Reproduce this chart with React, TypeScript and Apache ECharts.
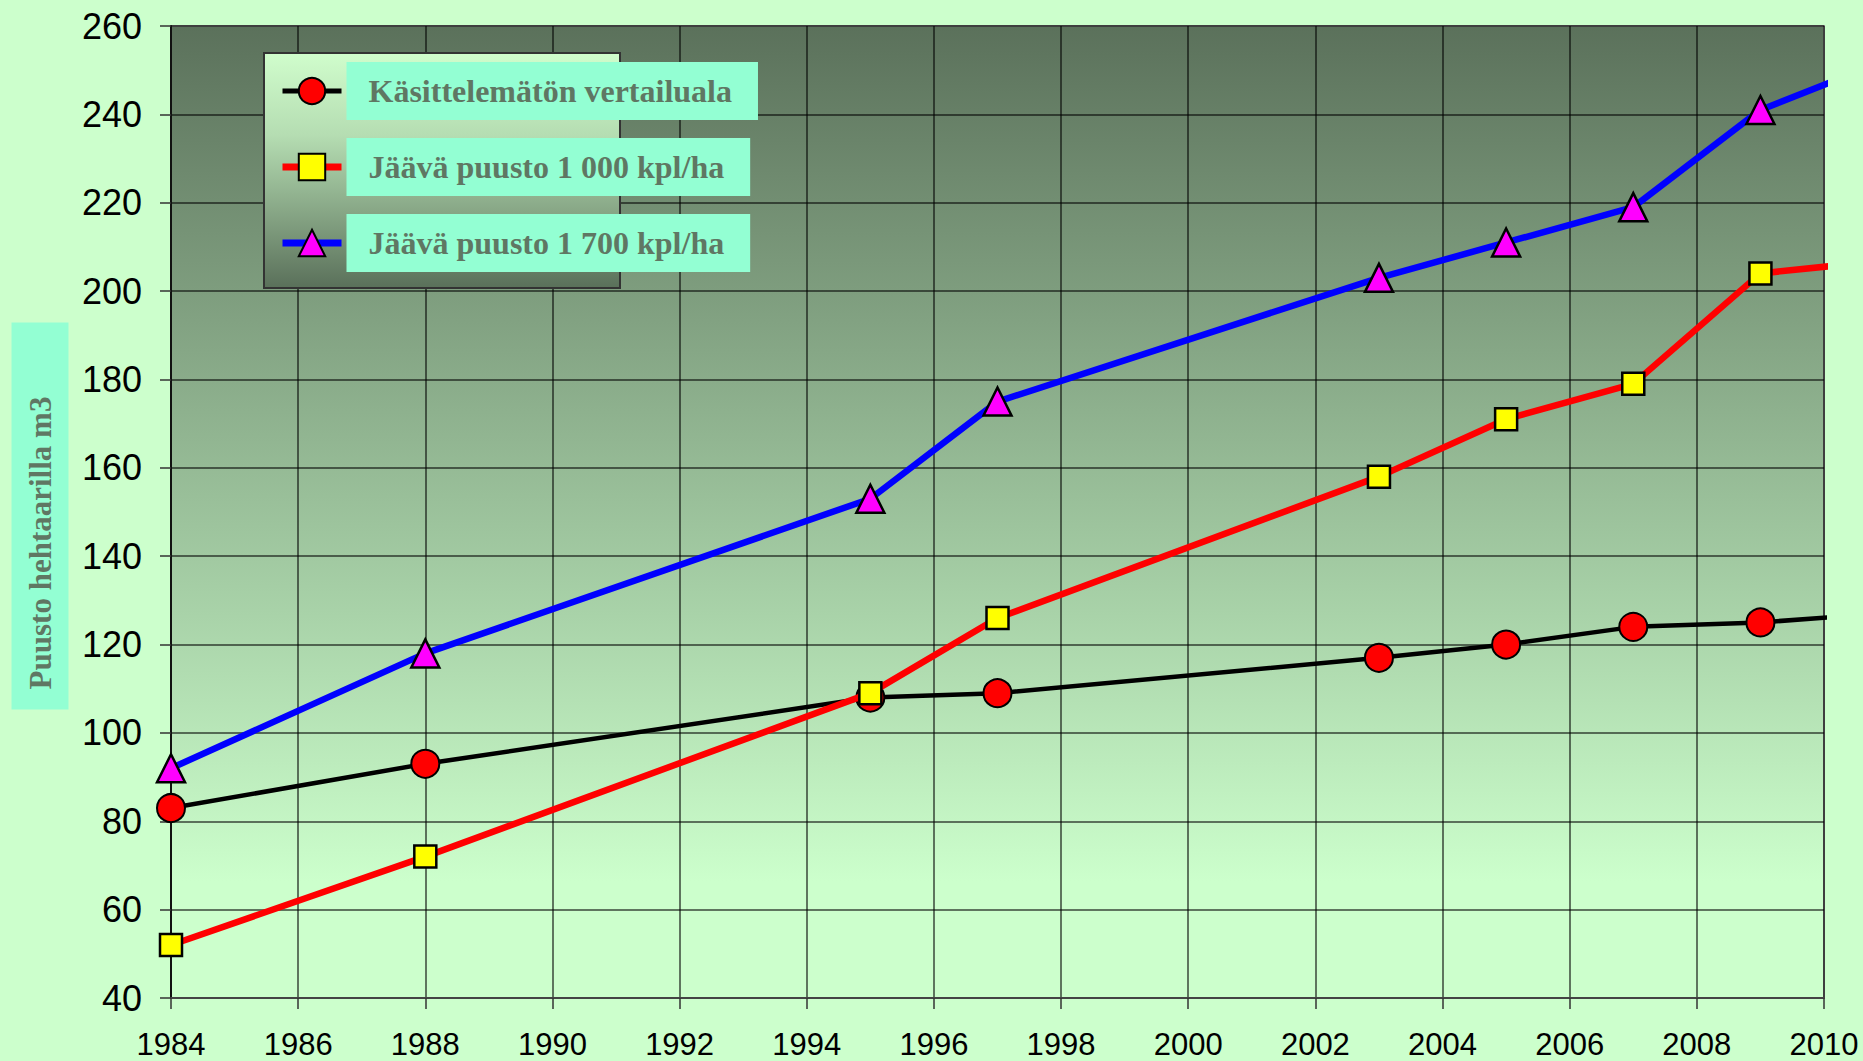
import React, { useEffect, useRef } from 'react';
import * as echarts from 'echarts';

// ---- data ----
const years = [1984, 1988, 1995, 1997, 2003, 2005, 2007, 2009];
const tailYear = 2010.2; // lines run a little past the 2010 edge
const untreated = [83, 93, 108, 109, 117, 120, 124, 125];
const untreatedTail = 126.3;
const stand1000 = [52, 72, 109, 126, 158, 171, 179, 204];
const stand1000Tail = 205.8;
const stand1700 = [92, 118, 153, 175, 203, 211, 219, 241];
const stand1700Tail = 247.8;
const seriesNames = [
  'Käsittelemätön vertailuala',
  'Jäävä puusto 1 000 kpl/ha',
  'Jäävä puusto 1 700 kpl/ha',
];
const yAxisTitle = 'Puusto hehtaarilla m3';
const xMin = 1984;
const xMax = 2010;
const xStep = 2;
const yMin = 40;
const yMax = 260;
const yStep = 20;

const PAGE_BG = '#CCFFCC';
const TEAL = '#93FFD3';
const TITLE_COLOR = '#5F7763';
const SANS = "'Liberation Sans', Arial, sans-serif";
const SERIF = "'Liberation Serif', 'Times New Roman', serif";

function build(vals: number[], tail: number) {
  const pts: any[] = years.map((y, i) => [y, vals[i]]);
  pts.push({ value: [tailYear, tail], symbol: 'none' });
  return pts;
}

export default function App() {
  const ref = useRef<HTMLDivElement>(null);
  useEffect(() => {
    if (!ref.current) return;
    const chart = echarts.init(ref.current, undefined, { renderer: 'svg' });
    const option: any = {
      animation: false,
      backgroundColor: PAGE_BG,
      grid: {
        left: 171,
        right: 39,
        top: 26,
        bottom: 63,
        show: true,
        borderColor: '#8a8a8a',
        borderWidth: 2,
        backgroundColor: new echarts.graphic.LinearGradient(0, 0, 0, 1, [
          { offset: 0, color: '#5B715B' },
          { offset: 0.88, color: '#CCFFCC' },
          { offset: 1, color: '#CCFFCC' },
        ]),
      },
      xAxis: {
        type: 'value',
        min: xMin,
        max: xMax,
        interval: xStep,
        axisLine: { show: true, lineStyle: { color: '#444', width: 2 } },
        axisTick: { show: true, length: 11, lineStyle: { color: '#333', width: 1.5 } },
        axisLabel: {
          fontFamily: SANS,
          fontSize: 31,
          color: '#000',
          margin: 31,
          formatter: (v: number) => String(v),
        },
        splitLine: { show: true, lineStyle: { color: 'rgba(0,0,0,0.72)', width: 1.5 } },
      },
      yAxis: {
        type: 'value',
        min: yMin,
        max: yMax,
        interval: yStep,
        axisLine: { show: true, lineStyle: { color: '#111', width: 2 } },
        axisTick: { show: true, length: 11, lineStyle: { color: '#333', width: 1.5 } },
        axisLabel: { fontFamily: SANS, fontSize: 36, color: '#000', margin: 29 },
        splitLine: { show: true, lineStyle: { color: 'rgba(0,0,0,0.72)', width: 1.5 } },
      },
      legend: {
        orient: 'vertical',
        left: 279,
        top: 62,
        padding: 0,
        itemWidth: 59,
        itemHeight: 33,
        itemGap: 18,
        selectedMode: false,
        z: 20,
        data: [
          { name: seriesNames[0], lineStyle: { width: 5 } },
          { name: seriesNames[1], lineStyle: { width: 7 } },
          { name: seriesNames[2], lineStyle: { width: 7 } },
        ],
        textStyle: {
          fontFamily: SERIF,
          fontWeight: 'bold',
          fontSize: 32,
          color: TITLE_COLOR,
          backgroundColor: TEAL,
          padding: [13, 26, 13, 22],
        },
      },
      graphic: [
        {
          type: 'rect',
          z: 10,
          shape: { x: 264, y: 53, width: 356, height: 235 },
          style: {
            fill: new echarts.graphic.LinearGradient(0, 0, 0, 1, [
              { offset: 0, color: '#D0FDCC' },
              { offset: 0.35, color: '#B5DDB2' },
              { offset: 1, color: '#5A705A' },
            ]),
            stroke: '#333',
            lineWidth: 2,
          },
        },
        {
          type: 'text',
          z: 10,
          x: 40,
          y: 516,
          rotation: Math.PI / 2,
          style: {
            text: yAxisTitle,
            font: `bold 31px ${SERIF}`,
            fill: TITLE_COLOR,
            align: 'center',
            verticalAlign: 'middle',
            backgroundColor: TEAL,
            padding: [13, 74, 13, 20],
          },
        },
      ],
      series: [
        {
          name: seriesNames[0],
          type: 'line',
          clip: false,
          data: build(untreated, untreatedTail),
          symbol: 'circle',
          symbolSize: 28,
          lineStyle: { color: '#000', width: 4.5 },
          itemStyle: { color: '#FF0000', borderColor: '#000', borderWidth: 2 },
          z: 3,
        },
        {
          name: seriesNames[1],
          type: 'line',
          clip: false,
          data: build(stand1000, stand1000Tail),
          symbol: 'rect',
          symbolSize: 22,
          lineStyle: { color: '#FF0000', width: 6.5 },
          itemStyle: { color: '#FFFF00', borderColor: '#000', borderWidth: 2.5 },
          z: 4,
        },
        {
          name: seriesNames[2],
          type: 'line',
          clip: false,
          data: build(stand1700, stand1700Tail),
          symbol: 'triangle',
          symbolSize: 28,
          lineStyle: { color: '#0000FF', width: 6.5 },
          itemStyle: { color: '#FF00FF', borderColor: '#000', borderWidth: 2.5 },
          z: 5,
        },
      ],
    };
    chart.setOption(option);
    return () => chart.dispose();
  }, []);
  return (
    <div
      ref={ref}
      style={{ position: 'fixed', left: 0, top: 0, width: 1863, height: 1061 }}
    />
  );
}
